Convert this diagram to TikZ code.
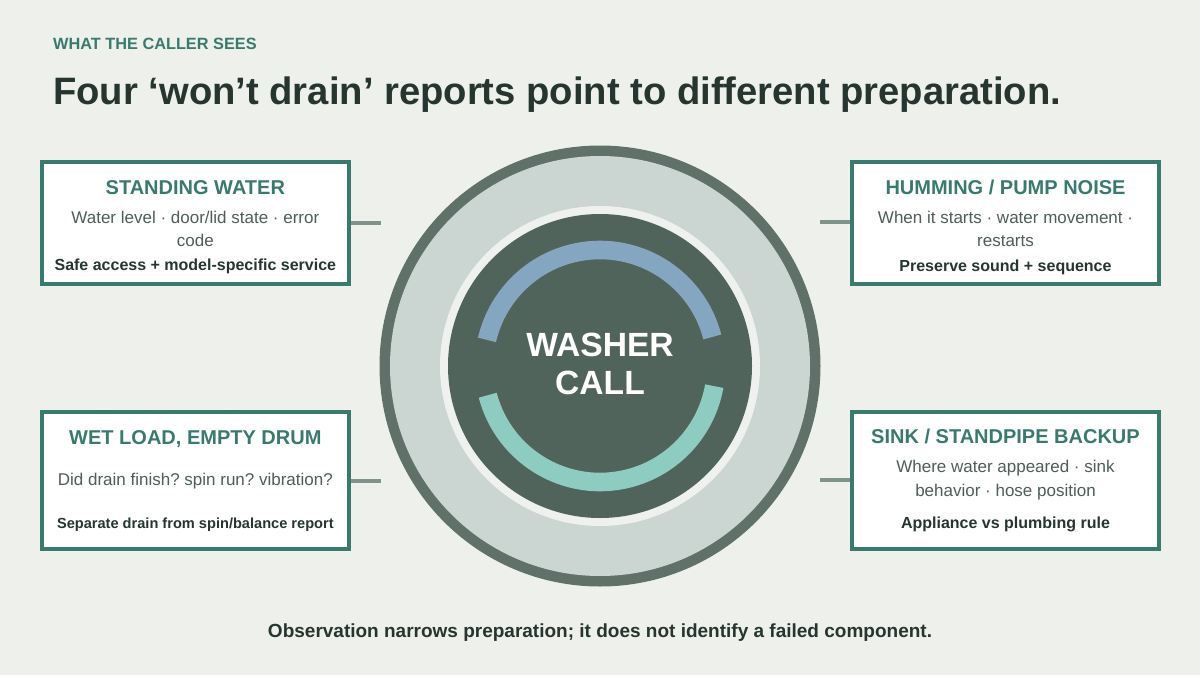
\documentclass[tikz,border=0pt]{standalone}
\usepackage{fontspec}
\setmainfont{Liberation Sans}
\frenchspacing
\definecolor{bg}{HTML}{EEF0EB}
\definecolor{teal}{HTML}{3A7A6E}
\definecolor{darktxt}{HTML}{263530}
\definecolor{bodytxt}{HTML}{4E5D58}
\definecolor{ringdark}{HTML}{5F7169}
\definecolor{ringlight}{HTML}{CBD5D1}
\definecolor{gapwhite}{HTML}{EEF1ED}
\definecolor{core}{HTML}{51645C}
\definecolor{arcblue}{HTML}{84A6C0}
\definecolor{arcgreen}{HTML}{8ECBC0}
\definecolor{conn}{HTML}{7E938B}
\begin{document}
\begin{tikzpicture}[x=1pt,y=-1pt,
  box/.style={draw=teal, line width=4pt, fill=white, minimum width=306.7pt, inner sep=0pt},
  ttl/.style={font=\fontsize{20}{24}\selectfont\bfseries, text=teal, anchor=base, inner sep=0pt},
  bodyline/.style={font=\fontsize{17}{20}\selectfont, text=bodytxt, anchor=base, inner sep=0pt},
  noteline/.style={font=\fontsize{16}{19}\selectfont\bfseries, text=darktxt, anchor=base, inner sep=0pt},
  connector/.style={draw=conn, line width=4pt},
  arcstyle/.style={line width=18.6pt}
]
\useasboundingbox[fill=bg] (0,0) rectangle (1200,675);

% header
\node[anchor=base west, inner sep=0pt, text=teal, font=\fontsize{16.3}{20}\selectfont\bfseries] (kicker) at (53,49) {WHAT THE CALLER SEES};
\node[anchor=base west, inner sep=0pt, text=darktxt, font=\fontsize{38.2}{44}\selectfont\bfseries] (title) at (53,104) {Four ‘won’t drain’ reports point to different preparation.};

% central dial
\coordinate (c) at (600,366);
\fill[ringdark] (c) circle[radius=220.5];
\fill[ringlight] (c) circle[radius=210];
\fill[gapwhite] (c) circle[radius=160];
\node[circle, fill=core, minimum size=304pt, inner sep=0pt] (core) at (c) {};
\draw[arcstyle, arcblue] (c) ++(-14.5:116) arc[start angle=-14.5, end angle=-167, radius=116];
\draw[arcstyle, arcgreen] (c) ++(165.4:116) arc[start angle=165.4, end angle=10, radius=116];
\node[anchor=base, inner sep=0pt, text=white, font=\fontsize{33.6}{38}\selectfont\bfseries] (w1) at (600,356) {WASHER};
\node[anchor=base, inner sep=0pt, text=white, font=\fontsize{33.6}{38}\selectfont\bfseries] (w2) at (600,394) {CALL};

% boxes
\node[box, minimum height=122pt] (sw) at (195.35,223) {};
\node[box, minimum height=136.7pt] (wl) at (195.35,480.35) {};
\node[box, minimum height=122pt] (hp) at (1005.5,223) {};
\node[box, minimum height=136.7pt] (sp) at (1005.5,480.35) {};

% connectors
\coordinate (swend) at (381,222.7);
\coordinate (wlend) at (381,480.7);
\coordinate (hpend) at (820,221.7);
\coordinate (spend) at (820,480);
\draw[connector] (sw.east |- swend) -- (swend);
\draw[connector] (wl.east |- wlend) -- (wlend);
\draw[connector] (hp.west |- hpend) -- (hpend);
\draw[connector] (sp.west |- spend) -- (spend);

% box texts: standing water
\node[ttl] (swt) at (195.35,194) {STANDING WATER};
\node[bodyline] (swb1) at (195.35,223.3) {Water level · door/lid state · error};
\node[bodyline] (swb2) at (195.35,246.7) {code};
\node[noteline] (swn) at (195.35,270.7) {Safe access + model-specific service};

% wet load
\node[ttl] (wlt) at (195.35,444) {WET LOAD, EMPTY DRUM};
\node[bodyline] (wlb1) at (195.35,485) {Did drain finish? spin run? vibration?};
\node[noteline, font=\fontsize{14.6}{18}\selectfont\bfseries] (wln) at (195.35,528.3) {Separate drain from spin/balance report};

% humming
\node[ttl] (hpt) at (1005.5,194) {HUMMING / PUMP NOISE};
\node[bodyline] (hpb1) at (1005.5,223.3) {When it starts · water movement ·};
\node[bodyline] (hpb2) at (1005.5,246.7) {restarts};
\node[noteline] (hpn) at (1005.5,271.7) {Preserve sound + sequence};

% sink
\node[ttl] (spt) at (1005.5,443.3) {SINK / STANDPIPE BACKUP};
\node[bodyline] (spb1) at (1005.5,472.7) {Where water appeared · sink};
\node[bodyline] (spb2) at (1005.5,496.7) {behavior · hose position};
\node[noteline] (spn) at (1005.5,528.3) {Appliance vs plumbing rule};

% footer
\node[anchor=base, inner sep=0pt, text=darktxt, font=\fontsize{19}{23}\selectfont\bfseries] (foot) at (600,637.3) {Observation narrows preparation; it does not identify a failed component.};
\end{tikzpicture}
\end{document}
